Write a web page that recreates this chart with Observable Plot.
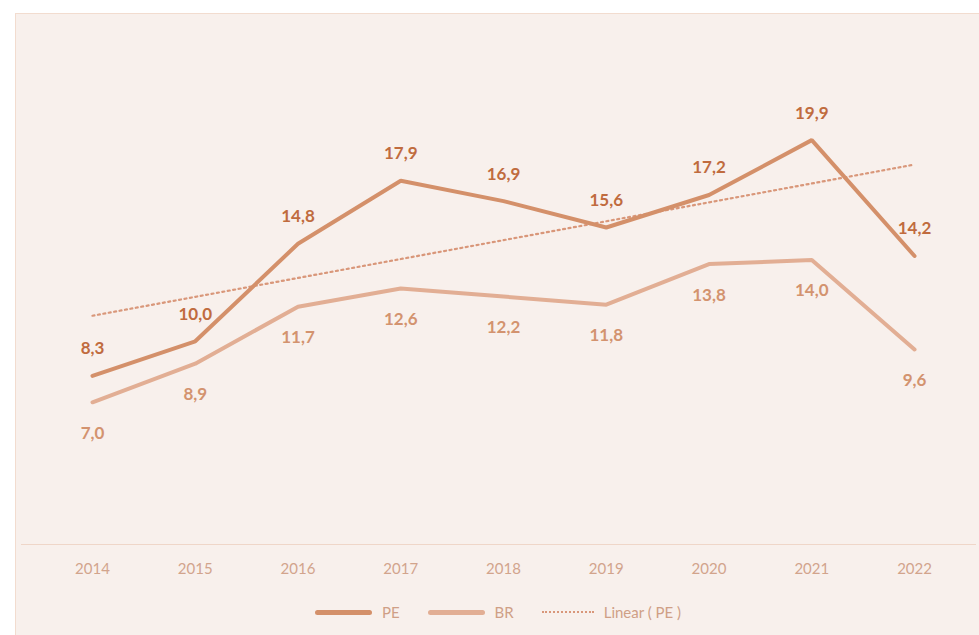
<!DOCTYPE html>
<html>
<head>
<meta charset="utf-8">
<script src="https://cdn.jsdelivr.net/npm/d3@7"></script>
<script src="https://cdn.jsdelivr.net/npm/@observablehq/plot@0.6"></script>
<style>
  html, body { margin: 0; padding: 0; background: #ffffff; }
  body { width: 979px; height: 635px; position: relative; overflow: hidden; font-family: Lato, "Open Sans", sans-serif; }
  #box { position: absolute; left: 15px; top: 13px; width: 966px; height: 624px; background: #f8f0ec; border: 1px solid #f2dccf; box-sizing: border-box; }
  #chart { position: absolute; left: 0; top: 0; }
  #legend { position: absolute; left: 0; top: 586px; width: 964px; height: 24px; display: flex; justify-content: center; align-items: center; gap: 0; font-size: 15px; color: #cf9f86; }
  .item { display: flex; align-items: center; margin: 0 14px; }
  .sw { width: 57px; height: 0; margin-right: 10px; }
</style>
</head>
<body>
<div id="box">
  <div id="chart"></div>
  <div id="legend">
    <div class="item"><div class="sw" style="border-top:5px solid #d4906a;border-radius:3px"></div>PE</div>
    <div class="item"><div class="sw" style="border-top:5px solid #e2ae94;border-radius:3px"></div>BR</div>
    <div class="item"><div class="sw" style="border-top:2px dotted #d9977a;width:52px"></div>Linear ( PE )</div>
  </div>
</div>
<script>
const years = [2014, 2015, 2016, 2017, 2018, 2019, 2020, 2021, 2022];
const pe = [8.3, 10.0, 14.8, 17.9, 16.9, 15.6, 17.2, 19.9, 14.2];
const br = [7.0, 8.9, 11.7, 12.6, 12.2, 11.8, 13.8, 14.0, 9.6];

const data = years.map((year, i) => ({year, PE: pe[i], BR: br[i]}));
const fmt = v => d3.format(".1f")(v).replace(".", ",");

const colPE = "#d4906a";
const colBR = "#e2ae94";
const colPELabel = "#c06b3e";
const colBRLabel = "#d3936f";

const chart = Plot.plot({
  width: 964,
  height: 575,
  marginLeft: 5,
  marginRight: 4,
  marginTop: 22,
  marginBottom: 45,
  style: {background: "transparent", fontFamily: "Lato, 'Open Sans', sans-serif"},
  x: {type: "linear", domain: [2013.309, 2022.603], label: null},
  y: {domain: [0, 25], axis: null},
  marks: [
    Plot.ruleY([0], {stroke: "#efd6c8", strokeWidth: 1}),
    Plot.axisX({ticks: years, tickFormat: d => String(d), tickSize: 0, tickPadding: 19, fontSize: 15, fill: "#d2a48c", label: null}),
    Plot.linearRegressionY(data, {x: "year", y: "PE", ci: 0, stroke: "#d9977a", strokeWidth: 2.2, strokeDasharray: "2,3.5"}),
    Plot.line(data, {x: "year", y: "BR", stroke: colBR, strokeWidth: 4, strokeLinejoin: "miter"}),
    Plot.line(data, {x: "year", y: "PE", stroke: colPE, strokeWidth: 4, strokeLinejoin: "miter"}),
    Plot.text(data, {x: "year", y: "PE", text: d => fmt(d.PE), dy: -27, fill: colPELabel, fontWeight: "bold", fontSize: 17}),
    Plot.text(data, {x: "year", y: "BR", text: d => fmt(d.BR), dy: 31, fill: colBRLabel, fontWeight: "bold", fontSize: 17})
  ]
});
document.getElementById("chart").appendChild(chart);
</script>
</body>
</html>
